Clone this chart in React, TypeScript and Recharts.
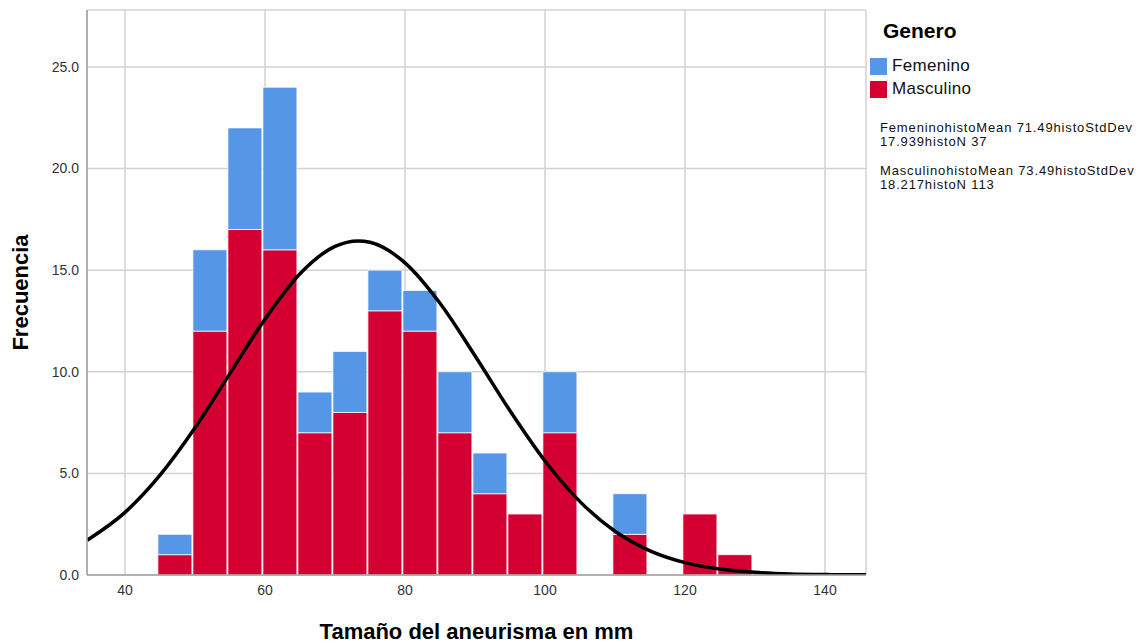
import { Bar, CartesianGrid, ComposedChart, Line, XAxis, YAxis } from 'recharts'

// histogram bins (centre of each 5 mm bin)
const binMid = [47.2, 52.2, 57.2, 62.2, 67.2, 72.2, 77.2, 82.2, 87.2, 92.2, 97.2, 102.2, 107.2, 112.2, 117.2, 122.2, 127.2]
const masculino = [1, 12, 17, 16, 7, 8, 13, 12, 7, 4, 3, 7, 0, 2, 0, 3, 1]
const femenino = [1, 4, 5, 8, 2, 3, 2, 2, 3, 2, 0, 3, 0, 2, 0, 0, 0]

// normal curve
const curveX = [34.6, 40, 45, 50, 55, 60, 65, 70, 73.3, 75, 80, 85, 90, 95, 100, 105, 110, 115, 120, 125, 130, 135, 140, 145.86]
const curveY = [1.71, 3.08, 4.91, 7.24, 9.92, 12.59, 14.82, 16.17, 16.44, 16.37, 15.36, 13.37, 10.79, 8.08, 5.61, 3.61, 2.15, 1.19, 0.61, 0.29, 0.13, 0.05, 0.02, 0.01]

const xTicks = [40, 60, 80, 100, 120, 140]
const yTicks = [0, 5, 10, 15, 20, 25]

const BLUE = '#5596e6'
const RED = '#d50032'
const FONT = '"Liberation Sans", Arial, sans-serif'
const X_DOMAIN: [number, number] = [34.571, 145.857]
const TICK = { fill: '#333', fontSize: 14, fontFamily: FONT }

const bars = binMid.map((x, i) => ({ x, masc: masculino[i], fem: femenino[i] }))
const curve = curveX.map((x, i) => ({ x, y: curveY[i] }))

const statStyle = {
  position: 'absolute' as const,
  left: 880,
  fontSize: 13,
  lineHeight: '14px',
  color: '#111',
  letterSpacing: 0.85,
  whiteSpace: 'nowrap' as const,
}

export default function App() {
  return (
    <div style={{ position: 'absolute', left: 0, top: 0, width: 1141, height: 643, fontFamily: FONT }}>
      <ComposedChart
        width={1141}
        height={643}
        data={bars}
        margin={{ top: 10, right: 275, bottom: 0, left: 0 }}
      >
        <CartesianGrid stroke="#d2d2d2" strokeWidth={1.5} />
        <XAxis
          dataKey="x"
          type="number"
          domain={X_DOMAIN}
          ticks={xTicks}
          allowDataOverflow
          tick={{ ...TICK, dy: 2 }}
          tickLine={false}
          axisLine={{ stroke: '#a0a0a0', strokeWidth: 1.5 }}
          height={68}
          label={{
            value: 'Tamaño del aneurisma en mm',
            position: 'insideBottom',
            offset: 4,
            style: { fontSize: 22, fontWeight: 'bold', fill: '#000', fontFamily: FONT },
          }}
        />
        <XAxis xAxisId="c" dataKey="x" type="number" domain={X_DOMAIN} allowDataOverflow hide />
        <YAxis
          type="number"
          domain={[0, 27.8]}
          ticks={yTicks}
          allowDataOverflow
          tick={TICK}
          tickLine={false}
          tickFormatter={(v: number) => v.toFixed(1)}
          axisLine={{ stroke: '#a0a0a0', strokeWidth: 1.5 }}
          width={87}
          label={{
            value: 'Frecuencia',
            angle: -90,
            position: 'insideLeft',
            offset: 20,
            style: { fontSize: 22, fontWeight: 'bold', fill: '#000', fontFamily: FONT, textAnchor: 'middle' },
          }}
        />
        <Bar dataKey="masc" stackId="a" fill={RED} stroke="#ffffff" strokeOpacity={0.75} barSize={34} isAnimationActive={false} />
        <Bar dataKey="fem" stackId="a" fill={BLUE} stroke="#ffffff" strokeOpacity={0.75} barSize={34} isAnimationActive={false} />
        <Line
          xAxisId="c"
          data={curve}
          dataKey="y"
          type="monotone"
          stroke="#000"
          strokeWidth={3.5}
          dot={false}
          activeDot={false}
          isAnimationActive={false}
        />
      </ComposedChart>

      <div style={{ position: 'absolute', left: 883, top: 19, fontSize: 21, fontWeight: 'bold', color: '#000' }}>Genero</div>
      <div style={{ position: 'absolute', left: 870, top: 56, display: 'flex', alignItems: 'center', fontSize: 17, color: '#111', letterSpacing: 0.3 }}>
        <span style={{ width: 17, height: 17, background: BLUE, marginRight: 5 }} />
        Femenino
      </div>
      <div style={{ position: 'absolute', left: 870, top: 79, display: 'flex', alignItems: 'center', fontSize: 17, color: '#111', letterSpacing: 0.3 }}>
        <span style={{ width: 17, height: 17, background: RED, marginRight: 5 }} />
        Masculino
      </div>
      <div style={{ ...statStyle, top: 121 }}>
        FemeninohistoMean 71.49histoStdDev
        <br />
        17.939histoN 37
      </div>
      <div style={{ ...statStyle, top: 164 }}>
        MasculinohistoMean 73.49histoStdDev
        <br />
        18.217histoN 113
      </div>
    </div>
  )
}
